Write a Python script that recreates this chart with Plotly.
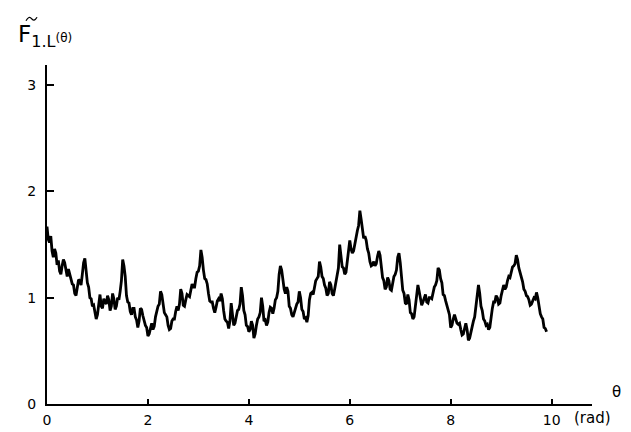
import plotly.graph_objects as go

theta_step = 0.05
# F values read at theta = 0, 0.05, 0.10, ...
F_grid = [
    1.67, 1.52, 1.44, 1.46, 1.31, 1.25, 1.30, 1.33, 1.20, 1.22,
    1.13, 1.04, 1.10, 1.16, 1.22, 1.37, 1.14, 1.00, 0.92, 0.86,
    0.84, 1.03, 0.90, 0.96, 1.02, 0.88, 1.04, 0.89, 1.00, 1.06,
    1.36, 1.20, 0.96, 0.87, 0.90, 0.82, 0.72, 0.90, 0.83, 0.74,
    0.64, 0.72, 0.70, 0.82, 0.92, 1.06, 0.95, 0.84, 0.74, 0.71,
    0.80, 0.87, 0.88, 1.08, 0.93, 0.98, 1.02, 1.07, 1.10, 1.18,
    1.25, 1.45, 1.26, 1.17, 1.04, 0.96, 0.90, 0.91, 0.99, 1.04,
    0.88, 0.78, 0.71, 0.95, 0.74, 0.83, 0.89, 1.10, 0.88, 0.74,
    0.68, 0.78, 0.62, 0.74, 0.82, 1.00, 0.78, 0.74, 0.86, 0.90,
    0.90, 1.00, 1.22, 1.26, 1.08, 1.10, 0.92, 0.84, 0.86, 0.94,
    1.06, 0.89, 0.80, 0.77, 0.98, 1.05, 1.10, 1.18, 1.34, 1.20,
    1.12, 1.02, 1.15, 1.04, 1.08, 1.20, 1.50, 1.29, 1.22, 1.36,
    1.54, 1.42, 1.51, 1.63, 1.82, 1.62, 1.58, 1.46, 1.34, 1.31,
    1.30, 1.39, 1.40, 1.19, 1.08, 1.19, 1.08, 1.15, 1.22, 1.38,
    1.33, 1.07, 0.95, 1.03, 0.86, 0.80, 0.93, 1.12, 0.98, 0.96,
    1.03, 0.95, 1.00, 1.05, 1.12, 1.28, 1.18, 1.03, 0.97, 0.90,
    0.72, 0.80, 0.80, 0.75, 0.70, 0.66, 0.76, 0.60, 0.68, 0.78,
    0.92, 1.12, 0.92, 0.80, 0.74, 0.70, 0.82, 0.96, 1.02, 0.94,
    1.02, 1.12, 1.10, 1.20, 1.24, 1.30, 1.40, 1.28, 1.18, 1.08,
    1.02, 0.98, 0.94, 1.00, 1.05, 0.90, 0.82, 0.72, 0.68,
]
# F values read halfway between grid points (theta = 0.025, 0.075, ...)
F_mid = [
    1.55, 1.58, 1.38, 1.42, 1.35, 1.22, 1.36, 1.24, 1.27, 1.15,
    1.12, 1.02, 1.17, 1.12, 1.33, 1.22, 1.10, 0.99, 0.93, 0.80,
    0.96, 0.92, 0.99, 0.94, 0.98, 0.92, 0.99, 0.92, 0.98, 1.16,
    1.30, 1.02, 0.95, 0.84, 0.90, 0.79, 0.78, 0.89, 0.77, 0.72,
    0.66, 0.76, 0.73, 0.89, 0.94, 1.03, 0.86, 0.82, 0.70, 0.78,
    0.80, 0.92, 0.94, 1.04, 0.92, 1.03, 1.01, 1.13, 1.10, 1.24,
    1.30, 1.38, 1.18, 1.13, 0.97, 0.96, 0.86, 0.97, 0.97, 0.99,
    0.80, 0.77, 0.78, 0.86, 0.76, 0.88, 0.94, 1.02, 0.84, 0.73,
    0.70, 0.74, 0.66, 0.80, 0.86, 0.92, 0.79, 0.77, 0.91, 0.85,
    0.98, 1.06, 1.30, 1.14, 1.04, 1.06, 0.90, 0.82, 0.92, 0.96,
    1.00, 0.87, 0.81, 0.83, 1.04, 1.03, 1.16, 1.20, 1.29, 1.18,
    1.09, 1.04, 1.12, 1.02, 1.16, 1.28, 1.40, 1.28, 1.24, 1.48,
    1.46, 1.44, 1.60, 1.68, 1.74, 1.56, 1.54, 1.42, 1.30, 1.34,
    1.32, 1.44, 1.28, 1.16, 1.10, 1.16, 1.07, 1.20, 1.26, 1.42,
    1.22, 1.04, 0.94, 0.98, 0.85, 0.82, 1.00, 1.06, 0.93, 1.01,
    0.96, 1.00, 0.99, 1.10, 1.16, 1.26, 1.14, 1.02, 0.92, 0.84,
    0.74, 0.84, 0.76, 0.76, 0.65, 0.72, 0.70, 0.62, 0.75, 0.82,
    0.98, 1.04, 0.88, 0.78, 0.75, 0.72, 0.90, 0.96, 1.00, 0.95,
    1.08, 1.08, 1.16, 1.19, 1.29, 1.32, 1.36, 1.24, 1.15, 1.06,
    1.01, 0.93, 0.98, 0.99, 1.00, 0.85, 0.80, 0.71,
]

theta, F_values = [], []
for i, v in enumerate(F_grid):
    theta.append(round(i * theta_step, 4))
    F_values.append(v)
    if i < len(F_mid) and i < len(F_grid) - 1:
        theta.append(round((i + 0.5) * theta_step, 4))
        F_values.append(F_mid[i])

x_ticks = [0, 2, 4, 6, 8, 10]
y_ticks = [0, 1, 2, 3]

fig = go.Figure()
fig.add_trace(go.Scatter(x=theta, y=F_values, mode="lines",
                         line=dict(color="black", width=2.8), showlegend=False))


def px2paper(px, py):
    return (px - 39) / 545.0, (405 - py) / 348.0


# tilde drawn over the F of the title
t_pts = [px2paper(*p) for p in [(18, 11.5), (21, 6), (23.5, 9.5), (29, 8)]]
tilde_path = "M {:.4f},{:.4f} Q {:.4f},{:.4f} {:.4f},{:.4f} T {:.4f},{:.4f}".format(
    t_pts[0][0], t_pts[0][1], t_pts[1][0], t_pts[1][1],
    t_pts[2][0], t_pts[2][1], t_pts[3][0], t_pts[3][1])

font = dict(family="DejaVu Sans", size=14, color="black")
fig.update_layout(
    width=631, height=432,
    margin=dict(l=39, r=47, t=57, b=27),
    paper_bgcolor="white", plot_bgcolor="white",
    font=font,
    xaxis=dict(range=[0, 10.8], tickvals=x_ticks, ticks="inside", ticklen=5,
               tickwidth=1.5, tickcolor="black", showline=True, linecolor="black",
               linewidth=2, showgrid=False, zeroline=False, fixedrange=True,
               ticklabelstandoff=2),
    yaxis=dict(range=[0, 3.19], tickvals=y_ticks, ticks="inside", ticklen=7,
               tickwidth=1.5, tickcolor="black", showline=True, linecolor="black",
               linewidth=2, showgrid=False, zeroline=False, fixedrange=True,
               ticklabelstandoff=6),
    shapes=[dict(type="path", xref="paper", yref="paper", path=tilde_path,
                 line=dict(color="black", width=1.3))],
    annotations=[
        dict(xref="paper", yref="paper", x=-0.056, y=1.085, xanchor="left", yanchor="middle",
             text="F<sub>1.L</sub><span style='font-size:12px'>(θ)</span>",
             showarrow=False, font=dict(family="DejaVu Sans", size=23)),
        dict(xref="paper", yref="paper", x=1.045, y=0.035, xanchor="center", yanchor="middle",
             text="θ", showarrow=False, font=dict(family="DejaVu Sans", size=15)),
        dict(xref="paper", yref="paper", x=1.0, y=-0.01, xanchor="center", yanchor="top",
             text="(rad)", showarrow=False, font=dict(family="DejaVu Sans", size=15)),
    ],
)
fig.write_html("out.html")
